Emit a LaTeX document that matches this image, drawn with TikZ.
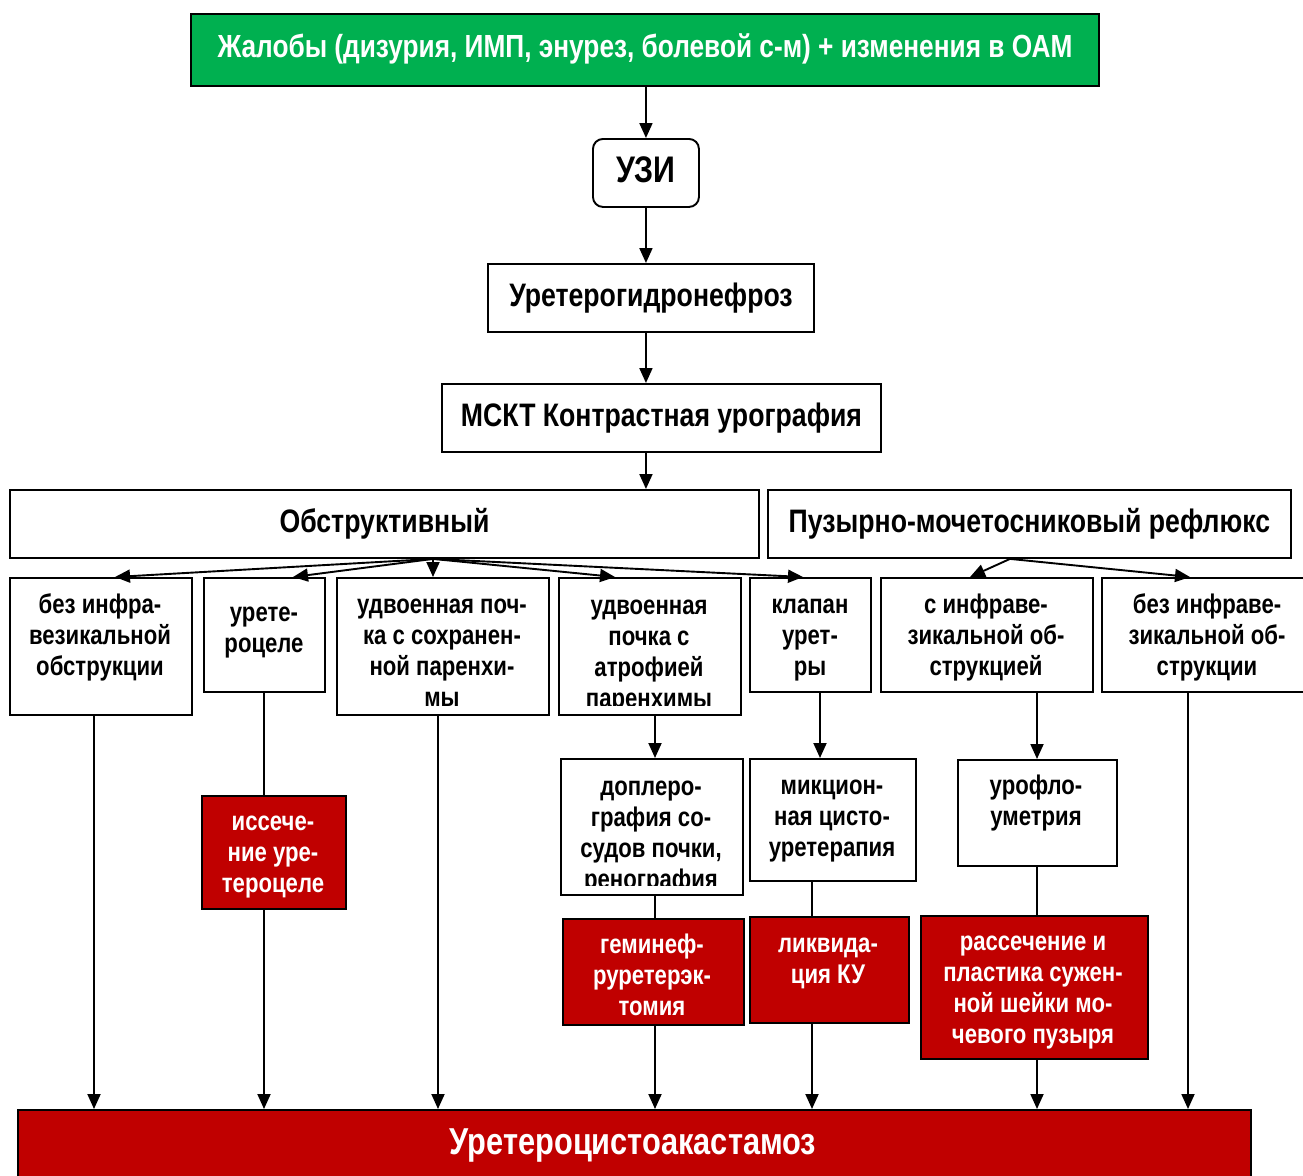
\documentclass[tikz,border=0pt]{standalone}
\usepackage{fontspec}
\newfontfamily\nf{Liberation Sans}[FakeStretch=0.82]
\usetikzlibrary{arrows.meta}
\definecolor{grn}{HTML}{00B050}
\definecolor{rd}{HTML}{C00000}
\tikzset{
 box/.style={draw=black, line width=1.9pt, fill=white, inner sep=0pt, font=\nf\bfseries\fontsize{32.5}{37}\selectfont},
 gbox/.style={box, fill=grn, text=white, font=\nf\bfseries\fontsize{32}{37}\selectfont},
 rbox/.style={box, fill=rd, text=white},
 txt/.style={align=center, inner sep=0pt, anchor=north, font=\nf\bfseries\fontsize{27}{31}\selectfont},
 wtxt/.style={txt, text=white},
 arr/.style={line width=1.9pt, -{Triangle[length=15pt,width=13pt]}},
 ln/.style={line width=1.9pt},
}
\newcommand\mybox[7]{\node[#6, anchor=north west, minimum width={(#4)-(#2)}, minimum height={(#5)-(#3)}] (#1) at (#2,#3) {\raisebox{6pt}{#7}};}
\begin{document}
\begin{tikzpicture}[x=1pt,y=-1pt]
\useasboundingbox[fill=white] (0,0) rectangle (1303,1175);
% main chain
\mybox{top}{190}{13}{1098}{85}{gbox}{\raisebox{2pt}{Жалобы (дизурия, ИМП, энурез, болевой с-м) + изменения в ОАМ}}
\mybox{uzi}{592}{138}{698}{206}{box, rounded corners=10pt, font=\nf\bfseries\fontsize{37}{42}\selectfont}{УЗИ}
\mybox{ug}{487}{263}{813}{331}{box}{Уретерогидронефроз}
\mybox{mskt}{441}{383}{880}{451}{box}{МСКТ Контрастная урография}
\mybox{obs}{9}{489}{758}{557}{box}{Обструктивный}
\mybox{pmr}{767}{489}{1290}{557}{box}{Пузырно-мочетосниковый рефлюкс}
% row 3
\mybox{A}{9}{577}{191}{714}{box}{}
\mybox{B}{203}{577}{324}{691}{box}{}
\mybox{C}{336}{577}{548}{714}{box}{}
\mybox{D}{558}{577}{740}{714}{box}{}
\mybox{E}{749}{577}{870}{691}{box}{}
\mybox{F}{880}{577}{1092}{691}{box}{}
\mybox{G}{1101}{577}{1320}{691}{box}{}
\node[txt] (tA) at (100,592) {\strut без инфра-\\везикальной\\обструкции};
\node[txt] (tB) at (264,600) {\strut урете-\\роцеле};
\node[txt] (tC) at (442,592) {\strut удвоенная поч-\\ка с сохранен-\\ной паренхи-\\мы};
\begin{scope}
\clip ([yshift=10pt]D.south west) rectangle (D.north east);
\node[txt] (tD) at (649,593) {\strut удвоенная\\почка с\\атрофией\\паренхимы};
\end{scope}
\node[txt] (tE) at (810,592) {\strut клапан\\урет-\\ры};
\node[txt] (tF) at (986,592) {\strut с инфраве-\\зикальной об-\\струкцией};
\node[txt] (tG) at (1207,592) {\strut без инфраве-\\зикальной об-\\струкции};
% row 4
\mybox{dop}{560}{758}{742}{894}{box}{}
\mybox{mik}{749}{758}{915}{880}{box}{}
\mybox{uro}{957}{759}{1116}{865}{box}{}
\begin{scope}
\clip ([yshift=10pt]dop.south west) rectangle (dop.north east);
\node[txt] (tdop) at (651,774) {\strut доплеро-\\графия со-\\судов почки,\\ренография};
\end{scope}
\node[txt] (tmik) at (832,773) {\strut микцион-\\ная цисто-\\уретерапия};
\node[txt] (turo) at (1036,773) {\strut урофло-\\уметрия};
% red boxes
\mybox{iss}{201}{795}{345}{908}{rbox}{}
\mybox{gem}{562}{918}{743}{1024}{rbox}{}
\mybox{liq}{749}{916}{908}{1022}{rbox}{}
\mybox{ras}{920}{915}{1147}{1058}{rbox}{}
\node[wtxt] (tiss) at (273,809) {\strut иссече-\\ние уре-\\тероцеле};
\node[wtxt] (tgem) at (652,932) {\strut геминеф-\\руретерэк-\\томия};
\node[wtxt] (tliq) at (828,931) {\strut ликвида-\\ция КУ};
\node[wtxt] (tras) at (1033,929) {\strut рассечение и\\пластика сужен-\\ной шейки мо-\\чевого пузыря};
\mybox{bot}{17}{1109}{1250}{1200}{rbox}{}
\node[anchor=center, inner sep=0pt, text=white, font=\nf\bfseries\fontsize{37.5}{42}\selectfont] (tbot) at (633,1145) {Уретероцистоакастамоз};
% x positions
\coordinate (xo) at (433,0);
\coordinate (xa) at (115,0);
\coordinate (xb) at (293,0);
\coordinate (xd) at (615,0);
\coordinate (xe) at (803,0);
\coordinate (xp) at (1010,0);
\coordinate (xf) at (970,0);
\coordinate (xg) at (1190,0);
\coordinate (vA) at (94,0);
\coordinate (vB) at (264,0);
\coordinate (vC) at (438,0);
\coordinate (vD) at (655,0);
\coordinate (vE) at (820,0);
\coordinate (vE2) at (812,0);
\coordinate (vF) at (1037,0);
\coordinate (vG) at (1188,0);
% chain arrows
\draw[arr] (top.south -| uzi.south) -- (uzi.north);
\draw[arr] (uzi.south) -- (ug.north -| uzi.south);
\draw[arr] (ug.south -| uzi.south) -- (mskt.north -| uzi.south);
\draw[arr] (mskt.south -| uzi.south) -- (obs.north -| uzi.south);
% fans
\draw[arr] (obs.south -| xo) -- (A.north -| xa);
\draw[arr] (obs.south -| xo) -- (B.north -| xb);
\draw[arr] (obs.south -| xo) -- (C.north -| xo);
\draw[arr] (obs.south -| xo) -- (D.north -| xd);
\draw[arr] (obs.south -| xo) -- (E.north -| xe);
\draw[arr] (pmr.south -| xp) -- (F.north -| xf);
\draw[arr] (pmr.south -| xp) -- (G.north -| xg);
% columns
\draw[arr] (A.south -| vA) -- (bot.north -| vA);
\draw[ln] (B.south -| vB) -- (iss.north -| vB);
\draw[arr] (iss.south -| vB) -- (bot.north -| vB);
\draw[arr] (C.south -| vC) -- (bot.north -| vC);
\draw[arr] (D.south -| vD) -- (dop.north -| vD);
\draw[ln] (dop.south -| vD) -- (gem.north -| vD);
\draw[arr] (gem.south -| vD) -- (bot.north -| vD);
\draw[arr] (E.south -| vE) -- (mik.north -| vE);
\draw[ln] (mik.south -| vE2) -- (liq.north -| vE2);
\draw[arr] (liq.south -| vE2) -- (bot.north -| vE2);
\draw[arr] (F.south -| vF) -- (uro.north -| vF);
\draw[ln] (uro.south -| vF) -- (ras.north -| vF);
\draw[arr] (ras.south -| vF) -- (bot.north -| vF);
\draw[arr] (G.south -| vG) -- (bot.north -| vG);
\end{tikzpicture}
\end{document}
